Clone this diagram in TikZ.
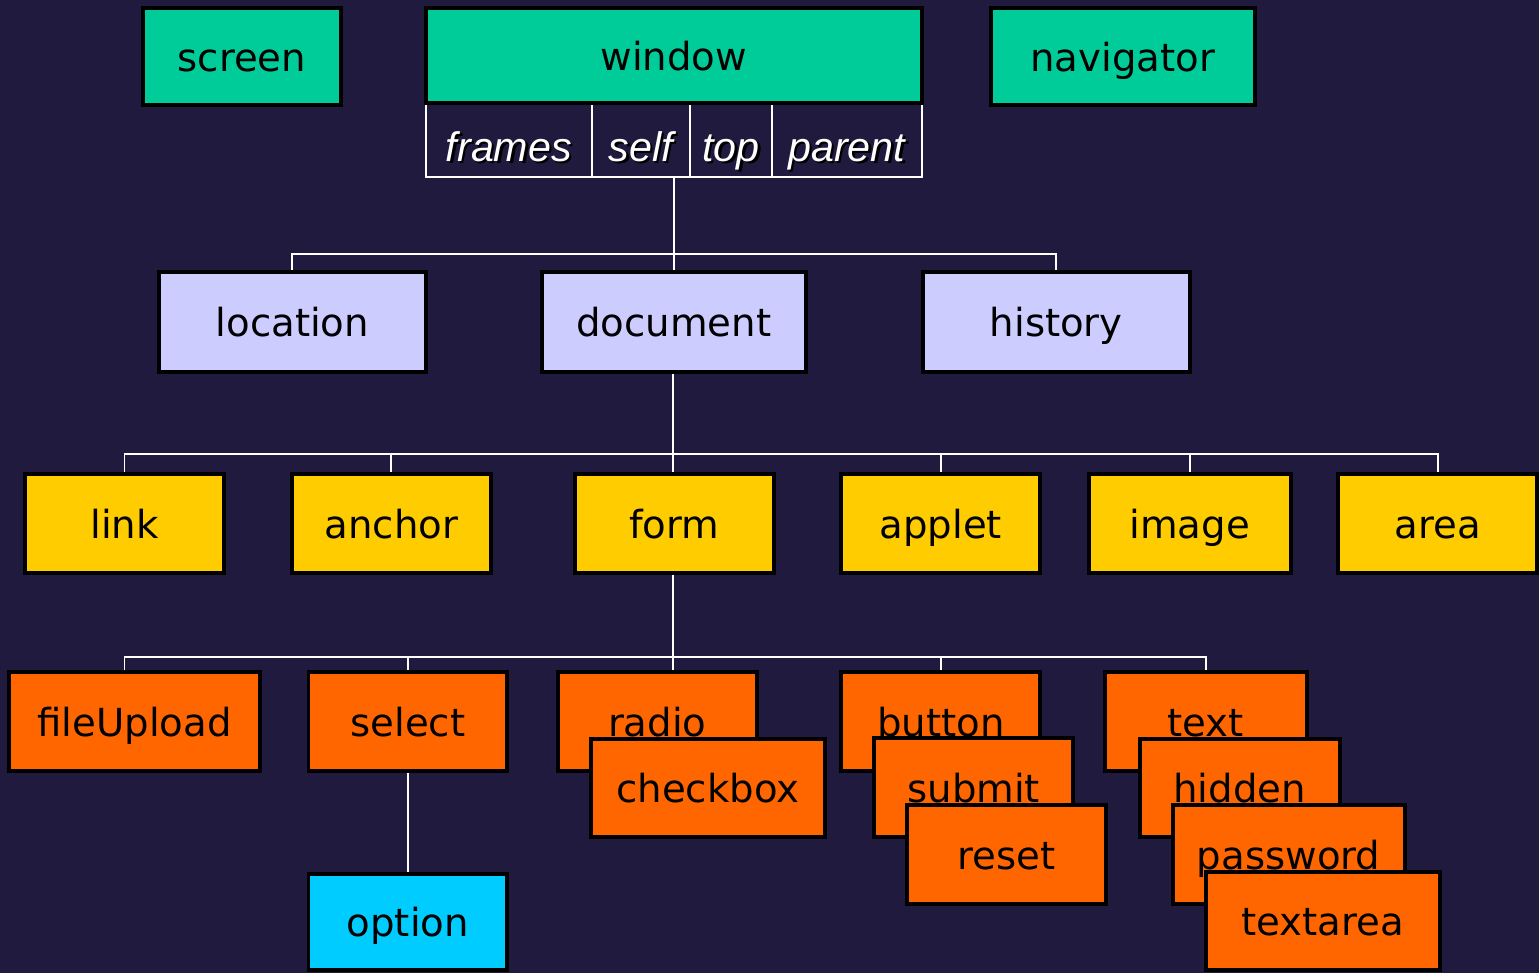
\documentclass[tikz,border=0pt]{standalone}
\usepackage{fontspec}
\setmainfont{DejaVu Sans}
\newfontfamily\cellfont{Liberation Sans}
\definecolor{nightbg}{RGB}{32,27,62}
\definecolor{teal}{RGB}{0,204,153}
\definecolor{lavender}{RGB}{204,204,255}
\definecolor{gold}{RGB}{255,204,0}
\definecolor{tangerine}{RGB}{255,102,0}
\definecolor{skyblue}{RGB}{0,204,255}
\newcommand\cellshadow[1]{\rlap{\kern1.4pt\raisebox{-1.4pt}{\color{black}#1}}#1}

\begin{document}
\begin{tikzpicture}[x=0.02cm,y=-0.02cm]
\tikzset{boite/.style={draw=black, line width=2.2pt, minimum width=3.98cm, minimum height=1.98cm, inner sep=0pt, text height=17pt, text depth=0pt, font=\fontsize{22}{26}\selectfont},
  cellule/.style={draw=white, line width=1.1pt, minimum height=1.48cm, inner sep=0pt, text=white, text height=24pt, text depth=0pt, font=\cellfont\itshape\fontsize{23.5}{27}\selectfont},
  fil/.style={draw=white, line width=1.1pt}}
\fill[nightbg] (0,0) rectangle (1539,973);
% top row
\node[boite, fill=teal, minimum width=3.96cm, minimum height=1.94cm] (screen) at (242,56.5) {screen};
\node[boite, fill=teal, minimum width=5.28cm, minimum height=1.94cm] (navigator) at (1123,56.5) {navigator};
\node[cellule, minimum width=3.32cm] (frames) at (509,140) {\cellshadow{frames}};
\node[cellule, minimum width=1.96cm] (self) at (641,140) {\cellshadow{self}};
\node[cellule, minimum width=1.64cm] (top) at (731,140) {\cellshadow{top}};
\node[cellule, minimum width=3.0cm] (parent) at (847,140) {\cellshadow{parent}};
\node[boite, fill=teal, minimum width=9.92cm, minimum height=1.9cm] (window) at (674,55.5) {window};
% second row
\node[boite, fill=lavender, minimum width=5.34cm, minimum height=2cm] (location) at (292.5,322) {location};
\node[boite, fill=lavender, minimum width=5.28cm, minimum height=2cm] (document) at (674,322) {document};
\node[boite, fill=lavender, minimum width=5.34cm, minimum height=2cm] (history) at (1056.5,322) {history};
\coordinate (j1) at (674,254);
\draw[fil] (location.north) |- (j1) -| (history.north);
\draw[fil] (self.south -| j1) -- (document.north);
% third row
\node[boite, fill=gold] (link) at (124.5,523.5) {link};
\node[boite, fill=gold] (anchor) at (391.5,523.5) {anchor};
\node[boite, fill=gold] (form) at (674.5,523.5) {form};
\node[boite, fill=gold] (applet) at (941,523.5) {applet};
\node[boite, fill=gold, minimum width=4.04cm] (image) at (1190,523.5) {image};
\node[boite, fill=gold] (area) at (1438,523.5) {area};
\coordinate (j2) at (673,454);
\draw[fil] (link.north) |- (j2) -| (area.north);
\draw[fil] (j2 |- document.south) -- (j2 |- form.north);
\draw[fil] (j2 -| anchor.north) -- (anchor.north);
\draw[fil] (j2 -| applet.north) -- (applet.north);
\draw[fil] (j2 -| image.north) -- (image.north);
% form elements
\coordinate (j3) at (673,657);
\draw[fil] (j3 |- form.south) -- (j3);
\node[boite, fill=tangerine, minimum width=5.02cm] (fileUpload) at (134.5,722) {fileUpload};
\node[boite, fill=tangerine] (select) at (408,722) {select};
\node[boite, fill=skyblue, minimum height=1.92cm] (option) at (408,922) {option};
\draw[fil] (select.south) -- (option.north);
\node[boite, fill=tangerine] (radio) at (657.5,722) {radio};
\node[boite, fill=tangerine, minimum width=4.68cm, minimum height=1.96cm] (checkbox) at (708,788) {checkbox};
\node[boite, fill=tangerine] (button) at (941,722) {button};
\node[boite, fill=tangerine] (submit) at (974,788) {submit};
\node[boite, fill=tangerine] (reset) at (1006.5,855) {reset};
\node[boite, fill=tangerine, minimum width=4.04cm] (text) at (1206,722) {text};
\node[boite, fill=tangerine, minimum width=4.0cm, minimum height=1.96cm] (hidden) at (1240,788) {hidden};
\node[boite, fill=tangerine, minimum width=4.64cm] (password) at (1289,855) {password};
\node[boite, fill=tangerine, minimum width=4.68cm, minimum height=1.96cm] (textarea) at (1323,921) {textarea};
\draw[fil] (link.north |- fileUpload.north) |- (j3) -| (text.north);
\draw[fil] (j3 -| select.north) -- (select.north);
\draw[fil] (j3) -- (j3 |- radio.north);
\draw[fil] (j3 -| button.north) -- (button.north);
\end{tikzpicture}
\end{document}
